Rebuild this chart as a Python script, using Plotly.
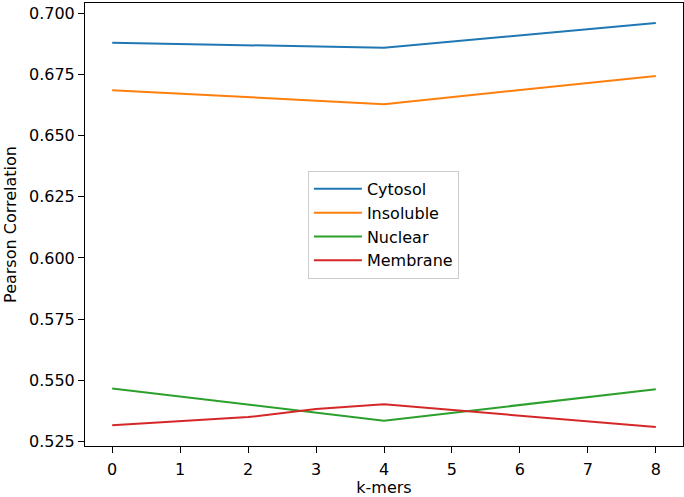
import plotly.graph_objects as go

# Data
x_cytosol = [0, 4, 8]
cytosol = [0.6879, 0.6858, 0.6959]

x_insoluble = [0, 4, 8]
insoluble = [0.6685, 0.6628, 0.6743]

x_nuclear = [0, 4, 8]
nuclear = [0.5467, 0.5335, 0.5464]

x_membrane = [0, 2, 3, 4, 8]
membrane = [0.5317, 0.5350, 0.5383, 0.5402, 0.5310]

y_ticks = [0.525, 0.550, 0.575, 0.600, 0.625, 0.650, 0.675, 0.700]
x_ticks = [0, 1, 2, 3, 4, 5, 6, 7, 8]

series = [
    ("Cytosol", x_cytosol, cytosol, "#1f77b4"),
    ("Insoluble", x_insoluble, insoluble, "#ff7f0e"),
    ("Nuclear", x_nuclear, nuclear, "#2ca02c"),
    ("Membrane", x_membrane, membrane, "#d62728"),
]

fig = go.Figure()
for name, xs, ys, color in series:
    fig.add_trace(go.Scatter(x=xs, y=ys, mode="lines", name=name,
                             line=dict(color=color, width=2)))

font = dict(family="DejaVu Sans", size=16, color="black")

fig.update_layout(
    width=684, height=497,
    margin=dict(l=85, r=1, t=3, b=51),
    paper_bgcolor="white", plot_bgcolor="white",
    font=font,
    showlegend=True,
    legend=dict(x=0.499, y=0.499, xanchor="center", yanchor="middle",
                bgcolor="white", bordercolor="#cccccc", borderwidth=1,
                font=font, tracegroupgap=0, itemwidth=48),
    xaxis=dict(range=[-0.4, 8.4], tickvals=x_ticks, ticks="outside", ticklen=6,
               tickcolor="black", showline=True, mirror=True, linecolor="black",
               linewidth=1, showgrid=False, zeroline=False, automargin=False,
               ticklabelstandoff=3,
               title=dict(text="k-mers", font=font, standoff=4)),
    yaxis=dict(range=[0.5232, 0.7041], tickvals=y_ticks, tickformat=".3f",
               ticks="outside", ticklen=6, tickcolor="black", showline=True,
               mirror=True, linecolor="black", linewidth=1, showgrid=False,
               zeroline=False, automargin=False,
               title=dict(text="Pearson Correlation", font=font, standoff=8)),
)

fig.write_html("out.html", config={"displayModeBar": False},
               post_script="document.body.style.margin='0px';")
